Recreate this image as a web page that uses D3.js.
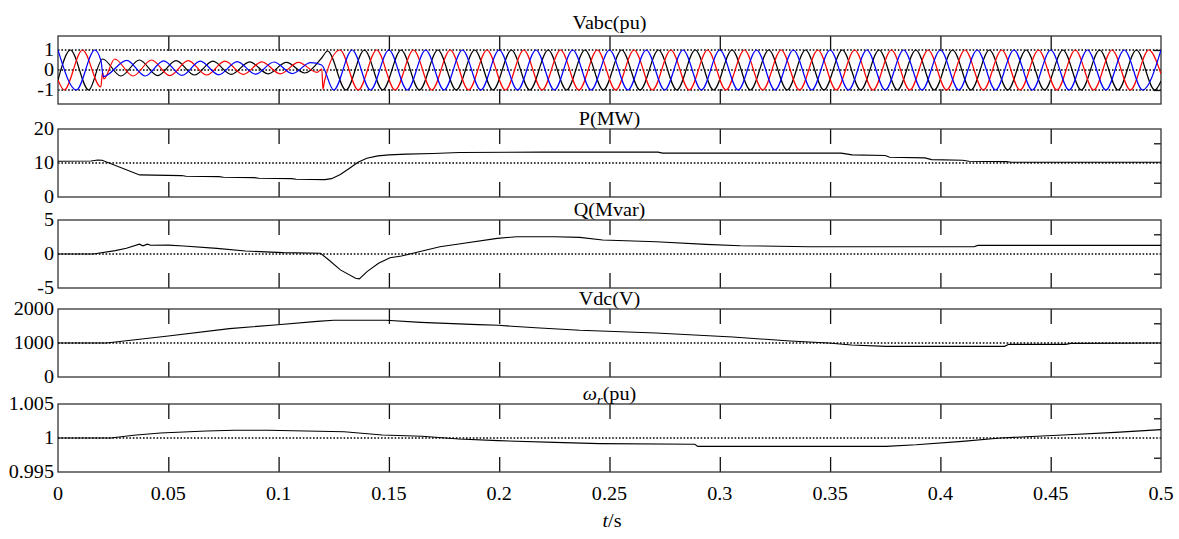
<!DOCTYPE html>
<html>
<head>
<meta charset="utf-8">
<script src="https://cdn.jsdelivr.net/npm/d3@7"></script>
<style>
  body { margin: 0; background: #fff; }
</style>
</head>
<body>
<div id="chart"></div>
<script>
// time axis (s)
var timeTicks = [0, 0.05, 0.1, 0.15, 0.2, 0.25, 0.3, 0.35, 0.4, 0.45, 0.5];
var timeLabels = ["0", "0.05", "0.1", "0.15", "0.2", "0.25", "0.3", "0.35", "0.4", "0.45", "0.5"];

// Vabc: waveform peaks, [t (ms), pu]
var halfCycleMs = 1000 / 120;
var vaPoints = [[0, 1], [8.3, -1], [16.7, 1], [19.5, 0.45], [20.5, -0.33], [31.2, 0.48], [39.5, -0.3],
  [47.9, 0.46], [56.2, -0.27], [64.5, 0.44], [72.9, -0.24], [81.2, 0.42], [89.5, -0.21], [97.9, 0.4],
  [106.2, -0.18], [114.5, 0.37], [119.5, 0.25]];
var vaSteadyStart = 125;
var vaSteadyPeaks = [-1, 1, -1, 1, -1, 1, -1, 1, -1, 1,
  -1, 1, -1, 1, -1, 1, -1, 1, -1, 1,
  -1, 1, -1, 1, -1, 1, -1, 1, -1, 1,
  -1, 1, -1, 1, -1, 1, -1, 1, -1, 1,
  -1, 1, -1, 1, -1, 1];
var vaTail = [];

var vbPoints = [[0, -0.5], [5.6, 1], [13.9, -1], [20.2, 0.55], [28.5, -0.3], [36.9, 0.5], [45.2, -0.28],
  [53.5, 0.47], [61.9, -0.25], [70.2, 0.44], [78.5, -0.22], [86.9, 0.41], [95.2, -0.19], [103.5, 0.38],
  [111.9, -0.15], [119.5, 0.6]];
var vbSteadyStart = 122.2;
var vbSteadyPeaks = [0.95, -1, 1, -1, 1, -1, 1, -1, 1, -1,
  1, -1, 1, -1, 1, -1, 1, -1, 1, -1,
  1, -1, 1, -1, 1, -1, 1, -1, 1, -1,
  1, -1, 1, -1, 1, -1, 1, -1, 1, -1,
  1, -1, 1, -1, 1, -1];
var vbTail = [[500, -0.55]];

var vcPoints = [[0, -0.5], [2.8, -1], [11.1, 1], [19.4, -0.85], [20.2, -0.1], [20.8, -0.45], [25.7, 0.55],
  [34.0, -0.3], [42.4, 0.5], [50.7, -0.28], [59.0, 0.47], [67.4, -0.25], [75.7, 0.44], [84.0, -0.22],
  [92.4, 0.41], [100.7, -0.19], [109.0, 0.38], [117.4, -0.12], [119.6, 0.05], [120.1, -0.97], [120.8, -0.55]];
var vcSteadyStart = 127.8;
var vcSteadyPeaks = [1, -1, 1, -1, 1, -1, 1, -1, 1, -1,
  1, -1, 1, -1, 1, -1, 1, -1, 1, -1,
  1, -1, 1, -1, 1, -1, 1, -1, 1, -1,
  1, -1, 1, -1, 1, -1, 1, -1, 1, -1,
  1, -1, 1, -1, 1];
var vcTail = [[500, -0.2]];

// P (MW)
var pData = [[0, 10.5], [0.015, 10.6], [0.018, 10.9], [0.02, 10.8], [0.037, 6.5], [0.056, 6.3], [0.058, 6.1],
  [0.073, 6.0], [0.075, 5.8], [0.089, 5.7], [0.091, 5.5], [0.106, 5.4], [0.108, 5.2], [0.121, 5.1],
  [0.124, 5.4], [0.128, 6.6], [0.132, 8.4], [0.136, 10.2], [0.14, 11.4], [0.145, 12.1], [0.15, 12.4],
  [0.158, 12.6], [0.17, 12.8], [0.182, 13.1], [0.22, 13.2], [0.272, 13.2], [0.274, 12.9], [0.355, 12.9],
  [0.36, 12.4], [0.375, 12.2], [0.377, 11.7], [0.393, 11.5], [0.396, 11.0], [0.41, 10.8], [0.413, 10.5],
  [0.43, 10.4], [0.432, 10.2], [0.5, 10.2]];

// Q (Mvar)
var qData = [[0, 0], [0.016, 0], [0.026, 0.5], [0.031, 0.85], [0.0369, 1.45], [0.0385, 1.2], [0.0405, 1.45],
  [0.042, 1.28], [0.05, 1.3], [0.057, 1.17], [0.072, 0.83], [0.085, 0.44], [0.102, 0.2], [0.119, 0.1],
  [0.1228, -0.88], [0.128, -2.34], [0.1349, -3.56], [0.1366, -3.66], [0.1401, -2.6], [0.1453, -1.37],
  [0.1505, -0.54], [0.1557, -0.3], [0.1609, 0.1], [0.1731, 1.07], [0.1817, 1.46], [0.1991, 2.3],
  [0.2078, 2.54], [0.2251, 2.54], [0.2365, 2.44], [0.2469, 2.05], [0.2712, 1.8], [0.2937, 1.41],
  [0.3093, 1.22], [0.3406, 1.07], [0.4152, 1.07], [0.417, 1.27], [0.5, 1.27]];

// Vdc (V)
var vdcData = [[0, 1000], [0.022, 1000], [0.05, 1206], [0.0777, 1422], [0.0997, 1539], [0.1175, 1637],
  [0.125, 1670], [0.1488, 1667], [0.1644, 1608], [0.1904, 1539], [0.1995, 1520], [0.2165, 1450],
  [0.2365, 1373], [0.271, 1294], [0.3059, 1176], [0.3319, 1059], [0.3492, 1000], [0.3597, 941],
  [0.3753, 902], [0.4291, 902], [0.431, 961], [0.4568, 961], [0.459, 990], [0.5, 1000]];

// rotor speed (pu)
var wrData = [[0, 1], [0.0239, 1], [0.0343, 1.0004], [0.0464, 1.00074], [0.0673, 1.00103], [0.08, 1.00115],
  [0.095, 1.00113], [0.1297, 1.00093], [0.147, 1.00044], [0.165, 1.00025], [0.1817, 0.99985],
  [0.1995, 0.99961], [0.2251, 0.99936], [0.2456, 0.99917], [0.2887, 0.99907], [0.29, 0.99877],
  [0.3753, 0.99877], [0.389, 0.999], [0.4099, 0.99951], [0.4272, 1.0], [0.4533, 1.0004],
  [0.4793, 1.00083], [0.5, 1.00123]];

// y ticks per panel
var vTicks = [-1, 0, 1], vLabels = ["-1", "0", "1"], vRight = [-1, 1];
var pTicks = [0, 10, 20], pLabels = ["0", "10", "20"], pRight = [4.2, 15.8];
var qTicks = [-5, 0, 5], qLabels = ["-5", "0", "5"], qRight = [-2.9, 2.9];
var dcTicks = [0, 1000, 2000], dcLabels = ["0", "1000", "2000"], dcRight = [420, 1580];
var wTicks = [0.995, 1, 1.005], wLabels = ["0.995", "1", "1.005"], wRight = [0.9971, 1.0029];

// layout
var width = 1179, height = 539;
var plotLeft = 58, plotRight = 1161, panelH = 68;
var textStretch = 1.12;

var svg = d3.select("#chart").append("svg")
  .attr("width", width)
  .attr("height", height);

var x = d3.scaleLinear().domain([0, 0.5]).range([plotLeft, plotRight]);

function label(g, px, py, str, anchor) {
  return g.append("text")
    .attr("transform", "translate(" + px + "," + py + ") scale(" + textStretch + ",1)")
    .attr("text-anchor", anchor)
    .attr("font-family", "Liberation Serif")
    .attr("font-size", 18)
    .attr("fill", "#000")
    .text(str);
}

var panels = [
  { title: "Vabc(pu)", top: 36, domain: [-1.7, 1.7], ticks: vTicks, labels: vLabels, grid: vTicks, right: vRight },
  { title: "P(MW)", top: 129, domain: [0, 20], ticks: pTicks, labels: pLabels, grid: [10], right: pRight },
  { title: "Q(Mvar)", top: 220, domain: [-5, 5], ticks: qTicks, labels: qLabels, grid: [0], right: qRight },
  { title: "Vdc(V)", top: 309, domain: [0, 2000], ticks: dcTicks, labels: dcLabels, grid: [1000], right: dcRight },
  { title: "wr", top: 404, domain: [0.995, 1.005], ticks: wTicks, labels: wLabels, grid: [1], right: wRight }
];

var innerTicks = timeTicks.slice(1, -1);

panels.forEach(function (p, i) {
  var y = d3.scaleLinear().domain(p.domain).range([p.top + panelH, p.top]);
  p.y = y;
  var g = svg.append("g");

  g.append("clipPath").attr("id", "clip" + i)
    .append("rect")
    .attr("x", plotLeft).attr("y", p.top)
    .attr("width", plotRight - plotLeft).attr("height", panelH);
  p.clip = "url(#clip" + i + ")";

  // dotted grid
  g.selectAll(".grid").data(p.grid).enter().append("line")
    .attr("x1", plotLeft).attr("x2", plotRight)
    .attr("y1", function (d) { return y(d); })
    .attr("y2", function (d) { return y(d); })
    .attr("stroke", "#000")
    .attr("stroke-width", 1.6)
    .style("stroke-dasharray", "1.6,1.8");

  // x tick marks at top and bottom, short ticks on the right
  var top = g.append("g")
    .attr("transform", "translate(0," + p.top + ")")
    .call(d3.axisTop(x).tickValues(innerTicks).tickSize(-15).tickFormat(""));
  var bot = g.append("g")
    .attr("transform", "translate(0," + (p.top + panelH) + ")")
    .call(d3.axisBottom(x).tickValues(innerTicks).tickSize(-15).tickFormat(""));
  var rgt = g.append("g")
    .attr("transform", "translate(" + plotRight + ",0)")
    .call(d3.axisRight(y).tickValues(p.right).tickSize(-7).tickFormat(""));
  [top, bot, rgt].forEach(function (a) {
    a.select(".domain").remove();
    a.selectAll("line").attr("stroke", "#111").attr("stroke-width", 1.3);
  });

  // frame
  g.append("rect")
    .attr("x", plotLeft).attr("y", p.top)
    .attr("width", plotRight - plotLeft).attr("height", panelH)
    .attr("fill", "none")
    .attr("stroke", "#333")
    .attr("stroke-width", 1.3);

  // y labels
  p.ticks.forEach(function (v, k) {
    label(g, 54, y(v) + 6, p.labels[k], "end");
  });

  // title
  var cx = (plotLeft + plotRight) / 2;
  if (p.title === "wr") {
    var t = label(g, cx, p.top - 4, "", "middle");
    t.append("tspan").attr("font-style", "italic").text("ω");
    t.append("tspan").attr("font-style", "italic").attr("font-size", 13).attr("dy", 4).text("r");
    t.append("tspan").attr("dy", -4).text("(pu)");
  } else {
    label(g, cx, p.top - (i === 0 ? 7 : 4), p.title, "middle");
  }
});

// x tick labels under the last panel
var xl = svg.append("g");
timeTicks.forEach(function (v, k) {
  label(xl, x(v), 500, timeLabels[k], "middle");
});
var tl = label(xl, 612, 527, "", "middle");
tl.append("tspan").attr("font-style", "italic").text("t");
tl.append("tspan").text("/s");

// three-phase voltages
function phasePoints(points, start, peaks, tail) {
  var steady = peaks.map(function (v, i) { return [start + i * halfCycleMs, v]; });
  return points.concat(steady, tail);
}
var phases = [
  { data: phasePoints(vbPoints, vbSteadyStart, vbSteadyPeaks, vbTail), color: "#000" },
  { data: phasePoints(vcPoints, vcSteadyStart, vcSteadyPeaks, vcTail), color: "#ff0000" },
  { data: phasePoints(vaPoints, vaSteadyStart, vaSteadyPeaks, vaTail), color: "#0000ff" }
];
var vLine = d3.line()
  .curve(d3.curveMonotoneX)
  .x(function (d) { return x(d[0] / 1000); })
  .y(function (d) { return panels[0].y(d[1]); });
phases.forEach(function (ph) {
  svg.append("path")
    .datum(ph.data)
    .attr("clip-path", panels[0].clip)
    .attr("fill", "none")
    .attr("stroke", ph.color)
    .attr("stroke-width", 1.2)
    .attr("d", vLine);
});

// single traces
[pData, qData, vdcData, wrData].forEach(function (data, k) {
  var p = panels[k + 1];
  svg.append("path")
    .datum(data)
    .attr("clip-path", p.clip)
    .attr("fill", "none")
    .attr("stroke", "#000")
    .attr("stroke-width", 1.1)
    .attr("d", d3.line()
      .x(function (d) { return x(d[0]); })
      .y(function (d) { return p.y(d[1]); })
    );
});
</script>
</body>
</html>
